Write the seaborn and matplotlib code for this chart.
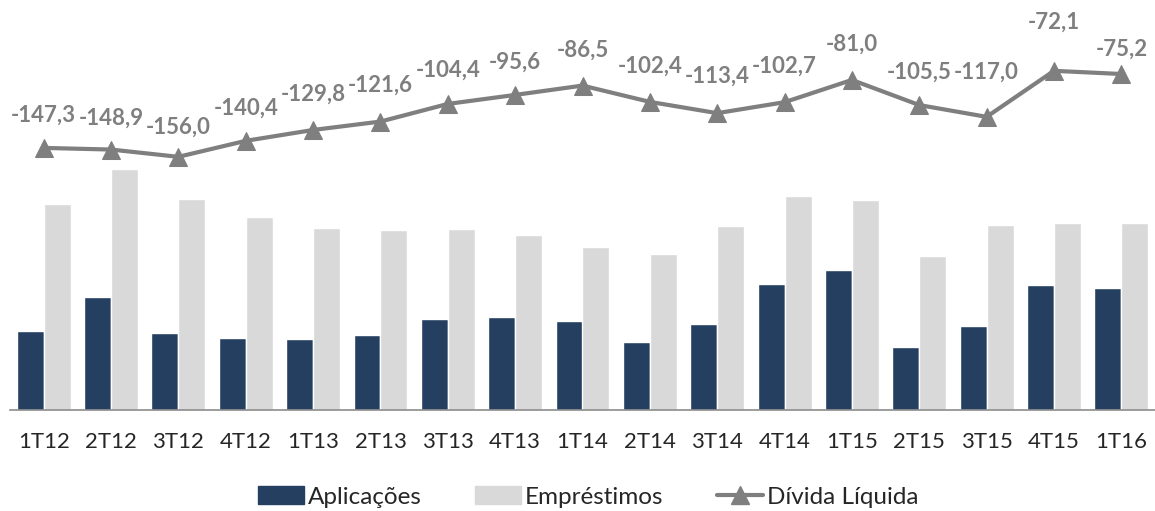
import numpy as np
import pandas as pd
import matplotlib
matplotlib.use("Agg")
import matplotlib.pyplot as plt
from matplotlib.lines import Line2D
from matplotlib.patches import Patch
import seaborn as sns

# Quarterly series (R$ milhões)
trimestres = ["1T12", "2T12", "3T12", "4T12", "1T13", "2T13", "3T13", "4T13", "1T14",
              "2T14", "3T14", "4T14", "1T15", "2T15", "3T15", "4T15", "1T16"]
aplicacoes = [91.6, 131.0, 89.0, 83.5, 82.0, 87.0, 105.5, 108.0, 103.0,
              79.0, 100.0, 146.0, 162.5, 73.0, 97.5, 145.0, 141.5]
emprestimos = [238.9, 279.9, 245.0, 223.9, 211.8, 208.6, 209.9, 203.6, 189.5,
               181.4, 213.4, 248.7, 243.5, 178.5, 214.5, 217.1, 216.7]
divida_liquida = [-147.3, -148.9, -156.0, -140.4, -129.8, -121.6, -104.4, -95.6, -86.5,
                  -102.4, -113.4, -102.7, -81.0, -105.5, -117.0, -72.1, -75.2]

COR_APLIC = "#243F60"
COR_EMPR = "#D9D9D9"
COR_LINHA = "#7F7F7F"

sns.set_style("white")
plt.rcParams["font.family"] = ["Lato", "DejaVu Sans"]

df = pd.DataFrame({
    "Trimestre": trimestres * 2,
    "Valor": aplicacoes + emprestimos,
    "Série": ["Aplicações"] * len(trimestres) + ["Empréstimos"] * len(trimestres),
})

fig = plt.figure(figsize=(11.55, 5.11), dpi=100)
ax = fig.add_axes([10 / 1155, 101 / 511, 1 - 10 / 1155, 410 / 511])

sns.barplot(data=df, x="Trimestre", y="Valor", hue="Série", order=trimestres,
            palette={"Aplicações": COR_APLIC, "Empréstimos": COR_EMPR},
            width=0.8, saturation=1, ax=ax, legend=False)

n = len(trimestres)
ax.set_xlim(-0.5, n - 0.5)
ax.set_ylim(0, 476)
ax.set_xlabel("")
ax.set_ylabel("")
ax.set_yticks([])
for s in ["top", "right", "left"]:
    ax.spines[s].set_visible(False)
ax.spines["bottom"].set_color("#8C8C8C")
ax.spines["bottom"].set_linewidth(1.2)
ax.set_xticks(np.arange(n))
ax.set_xticklabels(trimestres, fontsize=16, color="#262626")
ax.tick_params(axis="x", which="major", length=0, pad=16)
ax.set_xticks(np.arange(n + 1) - 0.5, minor=True)
ax.tick_params(axis="x", which="minor", length=8, width=1.2, color="#8C8C8C")

# Net debt on its own scale
ax2 = ax.twinx()
sns.lineplot(x=np.arange(n), y=divida_liquida, ax=ax2, color=COR_LINHA, linewidth=3,
             marker="^", markersize=13, markeredgecolor=COR_LINHA, clip_on=False)
ax2.set_ylim(-403, -3)
ax2.set_yticks([])
for s in ["top", "right", "left", "bottom"]:
    ax2.spines[s].set_visible(False)

deslocamento = [33, 31, 30, 33, 36, 36, 34, 33, 35, 36, 37, 36, 36, 33, 45, 49, 25]
for i, (v, d) in enumerate(zip(divida_liquida, deslocamento)):
    ax2.annotate(f"{v:.1f}".replace(".", ","), (i, v), xytext=(0, d * 0.72),
                 textcoords="offset points", ha="center", va="center",
                 fontsize=16, fontweight="bold", color=COR_LINHA)

handles = [
    Patch(facecolor=COR_APLIC, edgecolor=COR_APLIC),
    Patch(facecolor=COR_EMPR, edgecolor=COR_EMPR),
    Line2D([0], [0], color=COR_LINHA, linewidth=3, marker="^", markersize=13),
]
fig.legend(handles, ["Aplicações", "Empréstimos", "Dívida Líquida"], loc="center",
           bbox_to_anchor=(588 / 1155, 1 - 497 / 511), ncol=3, frameon=False,
           fontsize=17.5, handlelength=1.9, handletextpad=0.15, columnspacing=2.2,
           labelcolor="#262626")

fig.savefig("out.png", dpi=100)
